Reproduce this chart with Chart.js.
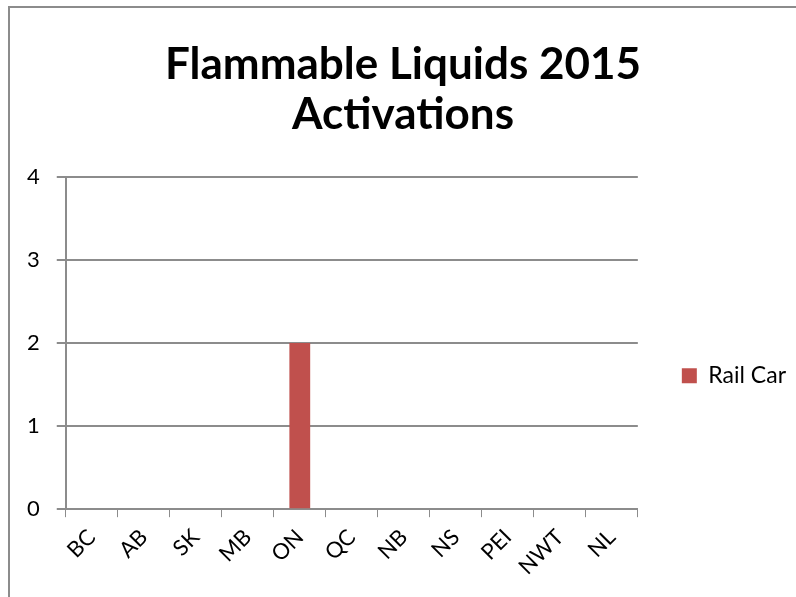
<!DOCTYPE html>
<html>
<head>
<meta charset="utf-8">
<script src="https://cdn.jsdelivr.net/npm/chart.js@4.4.1/dist/chart.umd.min.js"></script>
<style>
	html, body { margin: 0; padding: 0; background: #fff; }
	#wrap { position: absolute; left: 0; top: 0; width: 796px; height: 597px; }
	#frame {
		position: absolute; left: 8px; top: 6px; right: 0; bottom: 0;
		border-top: 2px solid #8c8c8c; border-left: 2px solid #8c8c8c;
		pointer-events: none;
	}
</style>
</head>
<body>
<div id="wrap">
	<canvas id="chartActivations" width="796" height="597"></canvas>
	<div id="frame"></div>
</div>
<script>
const categories = ['BC', 'AB', 'SK', 'MB', 'ON', 'QC', 'NB', 'NS', 'PEI', 'NWT', 'NL'];
const railCar = [0, 0, 0, 0, 2, 0, 0, 0, 0, 0, 0];
const titleLines = ['Flammable Liquids 2015', 'Activations'];

const gridColor = '#8c8c8c';
const fontFamily = 'Lato, "Open Sans", sans-serif';

Chart.defaults.font.family = fontFamily;
Chart.defaults.color = '#000';

const chartActivations = document.getElementById('chartActivations');

window.activationsChart = new Chart(chartActivations, {
	type: 'bar',
	data: {
		labels: categories,
		datasets: [
			{
				label: 'Rail Car',
				data: railCar,
				backgroundColor: '#c0504d',
				borderWidth: 0,
				barPercentage: 0.4,
				categoryPercentage: 1,
			},
		],
	},
	options: {
		responsive: false,
		animation: false,
		layout: {
			padding: { left: 10, right: 0, bottom: 10, top: 0 },
		},
		plugins: {
			title: {
				display: true,
				text: titleLines,
				font: { size: 44, weight: 'bold', lineHeight: 1.136 },
				padding: { top: 40, bottom: 37 },
				color: '#000',
			},
			legend: {
				position: 'right',
				title: {
					// empty title only pushes the single item down
					display: true,
					text: '',
					padding: { top: 138, bottom: 0 },
					font: { size: 22 },
				},
				labels: {
					boxWidth: 15,
					boxHeight: 15,
					font: { size: 23 },
					padding: 44,
				},
			},
			tooltip: { enabled: false },
		},
		scales: {
			x: {
				grid: {
					drawOnChartArea: false,
					drawTicks: true,
					tickLength: 8,
					color: gridColor,
				},
				border: { color: gridColor, width: 2 },
				ticks: {
					minRotation: 45,
					maxRotation: 45,
					font: { size: 22 },
					padding: 7,
				},
			},
			y: {
				min: 0,
				max: 4,
				ticks: {
					stepSize: 1,
					font: { size: 22 },
					padding: 17,
				},
				grid: {
					color: gridColor,
					lineWidth: 2,
					tickLength: 9,
				},
				border: { color: gridColor, width: 2 },
			},
		},
	},
});
</script>
</body>
</html>
